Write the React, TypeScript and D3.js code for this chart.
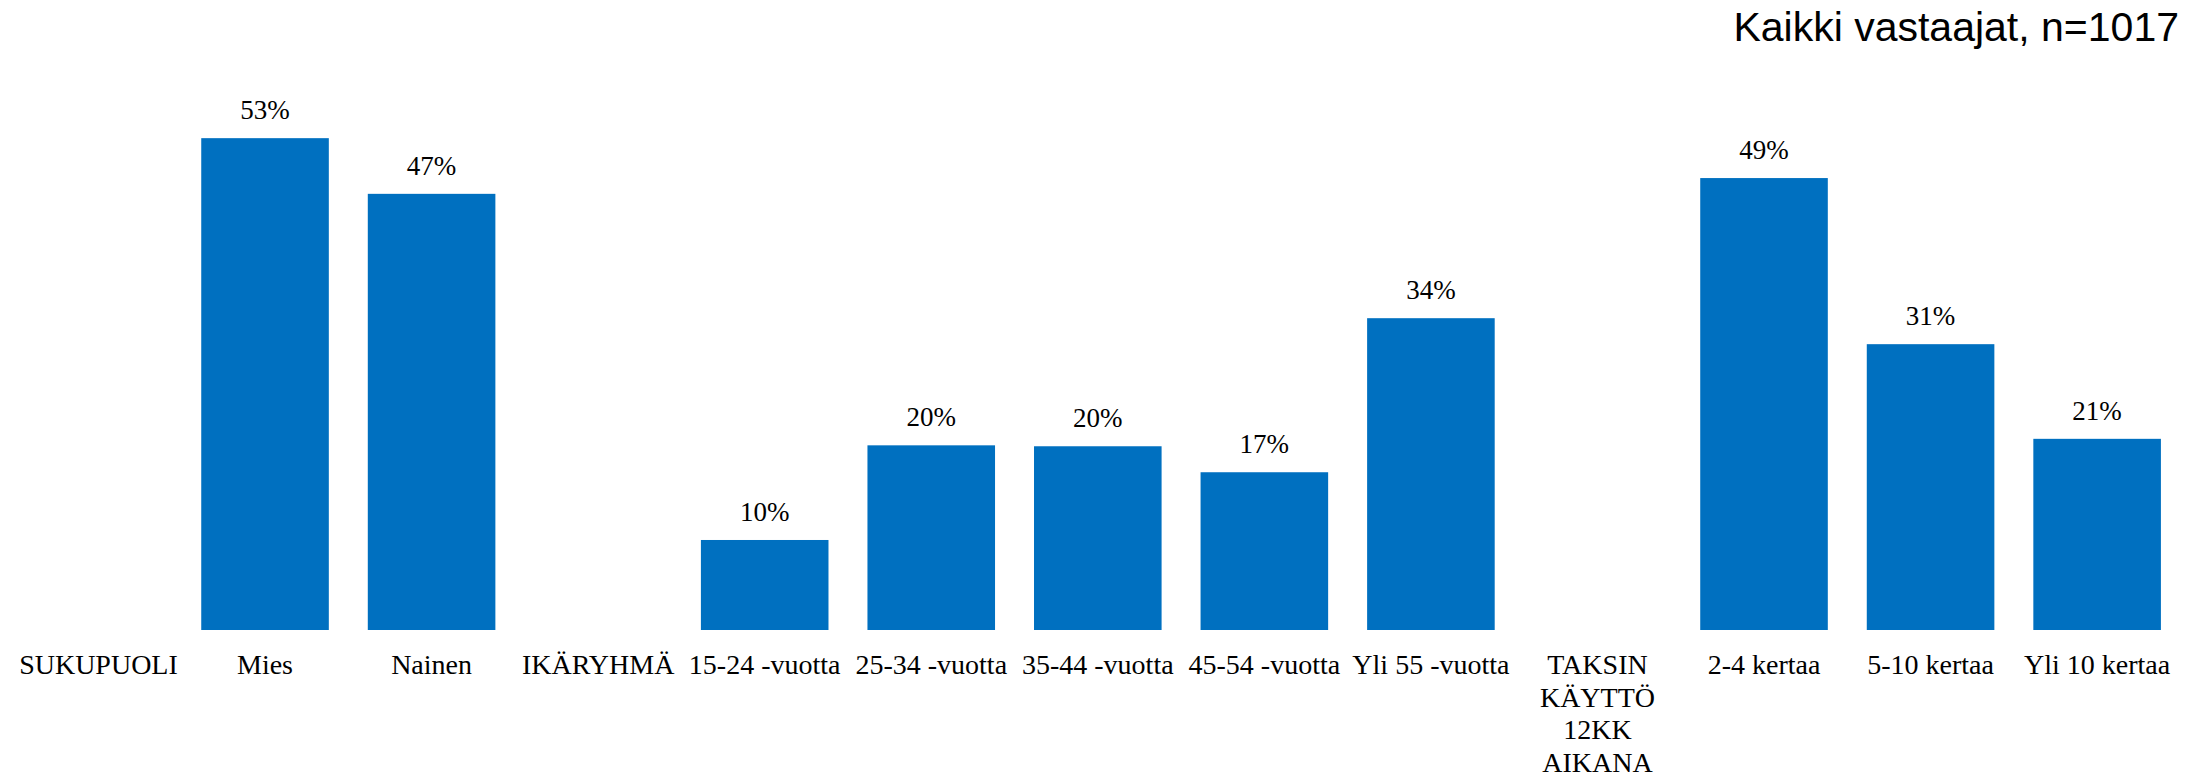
import React from "react";
import * as d3 from "d3";

const categories: string[] = [
  "SUKUPUOLI",
  "Mies",
  "Nainen",
  "IKÄRYHMÄ",
  "15-24 -vuotta",
  "25-34 -vuotta",
  "35-44 -vuotta",
  "45-54 -vuotta",
  "Yli 55 -vuotta",
  "TAKSIN\nKÄYTTÖ\n12KK\nAIKANA",
  "2-4 kertaa",
  "5-10 kertaa",
  "Yli 10 kertaa",
];

const values: (number | null)[] = [
  null, 53.0, 47.0,
  null, 9.7, 19.9, 19.8, 17.0, 33.6,
  null, 48.7, 30.8, 20.6,
];

const title = "Kaikki vastaajat, n=1017";

const W = 2209;
const H = 778;
const BAR_COLOR = "#0070C0";

export default function App() {
  const x = d3
    .scaleBand<string>()
    .domain(categories)
    .range([15.2, 2180.4])
    .paddingInner(0.234)
    .paddingOuter(0.117);

  const y = d3.scaleLinear().domain([0, 60]).range([630, 630 - 60 * 9.28]);

  return (
    <svg
      width={W}
      height={H}
      style={{ position: "absolute", left: 0, top: 0, background: "#fff" }}
    >
      <rect x={0} y={0} width={W} height={H} fill="#fff" />
      <text
        x={2179}
        y={41}
        textAnchor="end"
        fontFamily="'Liberation Sans', Arial, sans-serif"
        fontSize={41}
        fill="#000"
      >
        {title}
      </text>
      {categories.map((c, i) => {
        const v = values[i];
        const bx = x(c) as number;
        const bw = x.bandwidth();
        const cx = bx + bw / 2;
        const lines = c.split("\n");
        return (
          <g key={c}>
            {v !== null && (
              <>
                <rect
                  x={bx}
                  y={y(v)}
                  width={bw}
                  height={y(0) - y(v)}
                  fill={BAR_COLOR}
                />
                <text
                  x={cx}
                  y={y(v) - 19}
                  textAnchor="middle"
                  fontFamily="'Liberation Serif', 'Times New Roman', serif"
                  fontSize={27}
                  fill="#000"
                >
                  {`${Math.round(v)}%`}
                </text>
              </>
            )}
            <text
              textAnchor="middle"
              fontFamily="'Liberation Serif', 'Times New Roman', serif"
              fontSize={28}
              fill="#000"
            >
              {lines.map((l, j) => (
                <tspan key={j} x={cx} y={674 + j * 32.7}>
                  {l}
                </tspan>
              ))}
            </text>
          </g>
        );
      })}
    </svg>
  );
}
